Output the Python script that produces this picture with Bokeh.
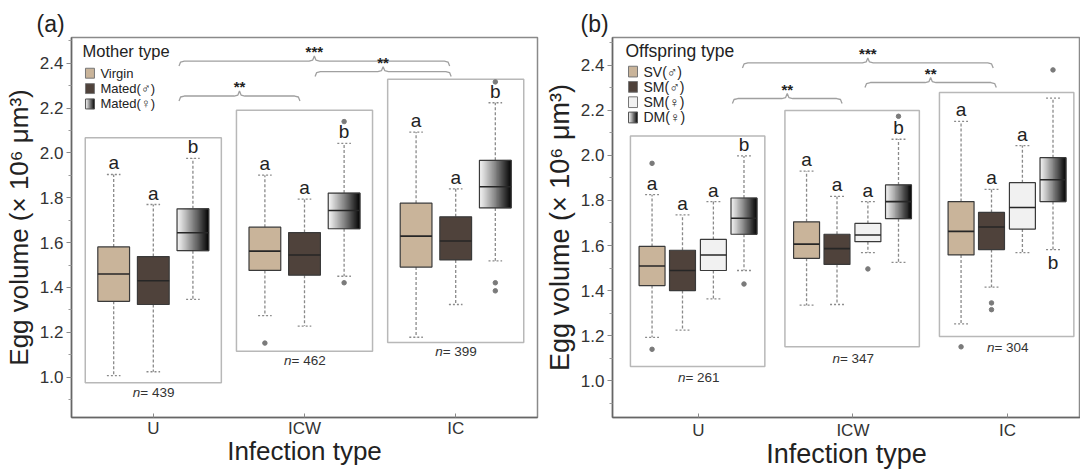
from bokeh.plotting import figure
from bokeh.layouts import row
from bokeh.models import FixedTicker, NumeralTickFormatter
from bokeh.core.properties import value
from bokeh.embed import file_html
from bokeh.resources import INLINE

FONT = "Liberation Sans"

groups = ["U", "ICW", "IC"]

# ---------------- panel (a): Mother type ----------------
a_series = ["Virgin", "Mated(♂)", "Mated(♀)"]
# each row: one series; columns: U, ICW, IC
a_lo = [[1.007, 1.274, 1.178], [1.024, 1.228, 1.324], [1.347, 1.450, 1.519]]
a_q1 = [[1.338, 1.476, 1.491], [1.324, 1.455, 1.523], [1.564, 1.662, 1.755]]
a_med = [[1.460, 1.562, 1.629], [1.430, 1.545, 1.607], [1.644, 1.743, 1.849]]
a_q3 = [[1.581, 1.669, 1.776], [1.538, 1.645, 1.715], [1.751, 1.821, 1.967]]
a_hi = [[1.904, 1.901, 2.093], [1.770, 1.794, 1.840], [1.976, 2.043, 2.224]]
a_out_group = ["ICW", "ICW", "ICW", "IC", "IC", "IC"]
a_out_series = [0, 2, 2, 2, 2, 2]
a_out_value = [1.152, 2.140, 1.421, 2.317, 1.421, 1.385]
a_letters = [["a", "a", "a"], ["a", "a", "a"], ["b", "b", "b"]]
a_letter_below = [[False] * 3, [False] * 3, [False] * 3]
a_n = ["439", "462", "399"]
a_frame_top = [2.068, 2.190, 2.329]
a_frame_bottom = [0.975, 1.116, 1.155]
a_br_x0 = [1.17, 1.17, 2.07]
a_br_x1 = [1.97, 2.96, 2.97]
a_br_y = [2.254, 2.410, 2.363]
a_br_label = ["**", "***", "**"]

# ---------------- panel (b): Offspring type ----------------
b_series = ["SV(♂)", "SM(♂)", "SM(♀)", "DM(♀)"]
b_lo = [[1.192, 1.335, 1.252], [1.224, 1.338, 1.415], [1.363, 1.568, 1.568], [1.489, 1.525, 1.582]]
b_q1 = [[1.422, 1.543, 1.558], [1.400, 1.516, 1.582], [1.489, 1.617, 1.673], [1.650, 1.719, 1.795]]
b_med = [[1.509, 1.606, 1.663], [1.489, 1.586, 1.682], [1.558, 1.647, 1.769], [1.721, 1.795, 1.892]]
b_q3 = [[1.596, 1.705, 1.795], [1.579, 1.650, 1.747], [1.627, 1.698, 1.879], [1.811, 1.869, 1.990]]
b_hi = [[1.826, 1.930, 2.151], [1.736, 1.818, 1.849], [1.795, 1.795, 2.044], [1.998, 2.072, 2.255]]
b_out_group = ["U", "U", "U", "ICW", "ICW", "IC", "IC", "IC", "IC"]
b_out_series = [0, 0, 3, 2, 3, 0, 1, 1, 3]
b_out_value = [1.965, 1.139, 1.429, 1.496, 2.174, 1.150, 1.345, 1.315, 2.380]
b_letters = [["a", "a", "a"], ["a", "a", "a"], ["a", "a", "a"], ["b", "b", "b"]]
b_letter_below = [[False] * 3, [False] * 3, [False] * 3, [False, False, True]]
b_n = ["261", "347", "304"]
b_frame_top = [2.087, 2.200, 2.280]
b_frame_bottom = [1.062, 1.150, 1.196]
b_br_x0 = [1.22, 1.285, 2.078]
b_br_x1 = [1.93, 2.908, 2.928]
b_br_y = [2.253, 2.411, 2.324]
b_br_label = ["**", "***", "**"]

TAN = "#c9b49a"
BROWN = "#4f423b"
LIGHT = "#f1f1f1"


def grad_color(t):
    v = int(round(242 - 232 * t ** 1.1))
    return "#%02x%02x%02x" % (v, v, v)


def make_panel(cfg):
    P = cfg["geom"]
    p = figure(width=540, height=471, x_range=(P["x0"], P["x1"]), y_range=(P["y0"], P["y1"]),
               output_backend="svg", toolbar_location=None, title=cfg["tag"],
               min_border_left=P["bl"], min_border_right=P["br"],
               min_border_top=P["bt"], min_border_bottom=P["bb"])
    p.title.text_font = FONT
    p.title.text_font_size = "23px"
    p.title.text_font_style = "normal"
    p.title.text_color = "#222222"
    p.title.align = "left"
    p.title.offset = cfg["tag_offset"]
    p.title.standoff = 1
    p.xgrid.visible = False
    p.ygrid.visible = False
    p.outline_line_color = "#8a8a8a"
    p.outline_line_width = 1.5
    p.background_fill_color = "white"
    p.border_fill_color = "white"

    # axes
    p.yaxis.ticker = FixedTicker(ticks=[1.0, 1.2, 1.4, 1.6, 1.8, 2.0, 2.2, 2.4],
                                 minor_ticks=[0.9, 1.1, 1.3, 1.5, 1.7, 1.9, 2.1, 2.3, 2.5])
    p.yaxis.formatter = NumeralTickFormatter(format="0.0")
    p.xaxis.ticker = FixedTicker(ticks=[1, 2, 3], minor_ticks=[])
    p.xaxis.major_label_overrides = {1: groups[0], 2: groups[1], 3: groups[2]}
    p.xaxis.axis_label = "Infection type"
    p.yaxis.axis_label = "Egg volume (× 10⁶ μm³)"
    for ax in (p.xaxis[0], p.yaxis[0]):
        ax.axis_line_color = "#666666"
        ax.axis_line_width = 1.5
        ax.major_tick_line_color = "#8a8a8a"
        ax.minor_tick_line_color = "#9a9a9a"
        ax.major_label_text_font = FONT
        ax.major_label_text_font_size = "17px"
        ax.major_label_text_color = "#333333"
        ax.axis_label_text_font = FONT
        ax.axis_label_text_font_size = cfg["title_size"]
        ax.axis_label_text_font_style = "normal"
        ax.axis_label_text_color = "#222222"
    p.yaxis.major_tick_out = 5
    p.yaxis.major_tick_in = 0
    p.yaxis.minor_tick_out = 3
    p.yaxis.minor_tick_in = 0
    p.yaxis.major_label_standoff = 3
    p.yaxis.axis_label_standoff = 3
    p.xaxis.major_tick_out = 0
    p.xaxis.major_tick_in = 4
    p.xaxis.major_label_standoff = cfg["xtick_standoff"]
    p.xaxis.axis_label_standoff = cfg["xlabel_standoff"]

    def px2x(px):
        return P["x0"] + (px - P["L"]) / P["W"] * (P["x1"] - P["x0"])

    def px2y(py):
        return P["y1"] - (py - P["T"]) / P["H"] * (P["y1"] - P["y0"])

    offs = cfg["offsets"]
    bw = cfg["box_w"]
    cap = 0.045
    ns = len(cfg["series"])

    # group frames
    gx = [i + 1 for i in range(len(groups))]
    p.quad(left=[g + cfg["frame_l"] for g in gx], right=[g + cfg["frame_r"] for g in gx],
           top=cfg["frame_top"], bottom=cfg["frame_bottom"],
           fill_color=None, line_color="#b8b8b8", line_width=1.5)

    for s in range(ns):
        xs = [g + offs[s] for g in gx]
        lo, q1, med, q3, hi = cfg["lo"][s], cfg["q1"][s], cfg["med"][s], cfg["q3"][s], cfg["hi"][s]
        # whiskers
        p.segment(x0=xs, y0=q3, x1=xs, y1=hi, line_color="#8a8a8a", line_width=1.3, line_dash="3 2")
        p.segment(x0=xs, y0=q1, x1=xs, y1=lo, line_color="#8a8a8a", line_width=1.3, line_dash="3 2")
        p.segment(x0=[x - cap for x in xs], y0=hi, x1=[x + cap for x in xs], y1=hi,
                  line_color="#8a8a8a", line_width=1.3, line_dash="2 2")
        p.segment(x0=[x - cap for x in xs], y0=lo, x1=[x + cap for x in xs], y1=lo,
                  line_color="#8a8a8a", line_width=1.3, line_dash="2 2")
        style = cfg["styles"][s]
        if style == "grad":
            nsl = 30
            L_, R_, T_, B_, C_ = [], [], [], [], []
            for k in range(len(xs)):
                left = xs[k] - bw / 2
                for j in range(nsl):
                    L_.append(left + bw * j / nsl)
                    R_.append(min(left + bw * (j + 1) / nsl + 0.004, left + bw))
                    T_.append(q3[k])
                    B_.append(q1[k])
                    C_.append(grad_color(j / (nsl - 1)))
            p.quad(left=L_, right=R_, top=T_, bottom=B_, fill_color=C_, line_color=C_, line_width=0.5)
            p.quad(left=[x - bw / 2 for x in xs], right=[x + bw / 2 for x in xs], top=q3, bottom=q1,
                   fill_color=None, line_color="#3a3a3a", line_width=1.2)
        else:
            p.quad(left=[x - bw / 2 for x in xs], right=[x + bw / 2 for x in xs], top=q3, bottom=q1,
                   fill_color=style, line_color="#3a3a3a", line_width=1.2)
        p.segment(x0=[x - bw / 2 for x in xs], y0=med, x1=[x + bw / 2 for x in xs], y1=med,
                  line_color="#262626", line_width=1.6)
        # letters
        for k in range(len(xs)):
            below = cfg["letter_below"][s][k]
            p.text(x=[xs[k]], y=[lo[k] if below else hi[k]], text=[cfg["letters"][s][k]],
                   text_font=value(FONT), text_font_size="19px", text_color="#222222",
                   text_align="center", text_baseline="top" if below else "bottom",
                   y_offset=2 if below else -1)

    # outliers
    ox = [groups.index(g) + 1 + offs[s] for g, s in zip(cfg["out_group"], cfg["out_series"])]
    p.scatter(x=ox, y=cfg["out_value"], size=4.5, fill_color="#7a7a7a", line_color="#7a7a7a")

    # n labels
    ny = [b - cfg["n_gap"] for b in cfg["frame_bottom"]]
    p.text(x=gx, y=ny, text=["n"] * 3, text_font=value(FONT), text_font_style="italic",
           text_font_size="13.5px", text_color="#333333", text_align="right",
           text_baseline="middle", x_offset=-13)
    p.text(x=gx, y=ny, text=["= " + n for n in cfg["n"]], text_font=value(FONT),
           text_font_size="13.5px", text_color="#333333", text_align="left",
           text_baseline="middle", x_offset=-13)

    # brackets (curly-brace style)
    h = 0.022
    d = 0.035
    xs_l, ys_l = [], []
    for x0, x1, y in zip(cfg["br_x0"], cfg["br_x1"], cfg["br_y"]):
        xm = (x0 + x1) / 2
        xs_l.append([x0, x0 + d * 0.3, x0 + d, xm - d, xm - d * 0.3, xm, xm + d * 0.3, xm + d, x1 - d, x1 - d * 0.3, x1])
        ys_l.append([y - h, y - h * 0.2, y, y, y + h * 0.2, y + h, y + h * 0.2, y, y, y - h * 0.2, y - h])
    p.multi_line(xs=xs_l, ys=ys_l, line_color="#a0a0a0", line_width=1.3)
    p.text(x=[(a + b) / 2 for a, b in zip(cfg["br_x0"], cfg["br_x1"])],
           y=[y + h for y in cfg["br_y"]], text=cfg["br_label"], text_font=value(FONT),
           text_font_style="bold", text_font_size="15px", text_color="#222222",
           text_align="center", text_baseline="bottom", y_offset=4)

    # legend (drawn manually)
    LG = cfg["legend"]
    p.text(x=[px2x(LG["title_x"])], y=[px2y(LG["title_y"])], text=[cfg["legend_title"]],
           text_font=value(FONT), text_font_size=LG["title_size"], text_color="#222222",
           text_align="left", text_baseline="middle")
    sw_l, sw_r = px2x(LG["sw_x"]), px2x(LG["sw_x"] + LG["sw_w"])
    for s in range(ns):
        cy = LG["y0"] + s * LG["dy"]
        top, bot = px2y(cy - LG["sw_h"] / 2), px2y(cy + LG["sw_h"] / 2)
        style = cfg["styles"][s]
        if style == "grad":
            nsl = 10
            cols = [grad_color(j / (nsl - 1)) for j in range(nsl)]
            p.quad(left=[sw_l + (sw_r - sw_l) * j / nsl for j in range(nsl)],
                   right=[sw_l + (sw_r - sw_l) * (j + 1) / nsl for j in range(nsl)],
                   top=[top] * nsl, bottom=[bot] * nsl,
                   fill_color=cols, line_color=cols, line_width=0.5)
            p.quad(left=[sw_l], right=[sw_r], top=[top], bottom=[bot], fill_color=None,
                   line_color="#555555", line_width=1)
        else:
            p.quad(left=[sw_l], right=[sw_r], top=[top], bottom=[bot], fill_color=style,
                   line_color="#777777", line_width=1)
        p.text(x=[px2x(LG["lab_x"])], y=[px2y(cy)], text=[cfg["series"][s]], text_font=value(FONT),
               text_font_size=LG["lab_size"], text_color="#222222", text_align="left",
               text_baseline="middle")
    return p


cfg_a = dict(
    geom=dict(x0=0.459, x1=3.541, y0=0.82, y1=2.515, L=70, T=37, W=467, H=383,
              bl=70, br=3, bt=37, bb=51),
    series=a_series, lo=a_lo, q1=a_q1, med=a_med, q3=a_q3, hi=a_hi,
    out_group=a_out_group, out_series=a_out_series, out_value=a_out_value,
    letters=a_letters, letter_below=a_letter_below, n=a_n, n_gap=0.042,
    frame_top=a_frame_top, frame_bottom=a_frame_bottom, frame_l=-0.45, frame_r=0.45,
    br_x0=a_br_x0, br_x1=a_br_x1, br_y=a_br_y, br_label=a_br_label,
    offsets=[-0.262, 0.0, 0.262], box_w=0.21, styles=[TAN, BROWN, "grad"],
    legend_title="Mother type",
    legend=dict(title_x=81, title_y=51, title_size="16.5px", sw_x=84, sw_w=9, sw_h=10,
                y0=73, dy=15.5, lab_x=99, lab_size="13px"),
    title_size="26px", tag="(a)", tag_offset=-35, xtick_standoff=1, xlabel_standoff=-5,
)

cfg_b = dict(
    geom=dict(x0=0.444, x1=3.473, y0=0.836, y1=2.524, L=72, T=36, W=468, H=390,
              bl=72, br=0, bt=36, bb=45),
    series=b_series, lo=b_lo, q1=b_q1, med=b_med, q3=b_q3, hi=b_hi,
    out_group=b_out_group, out_series=b_out_series, out_value=b_out_value,
    letters=b_letters, letter_below=b_letter_below, n=b_n, n_gap=0.05,
    frame_top=b_frame_top, frame_bottom=b_frame_bottom, frame_l=-0.44, frame_r=0.43,
    br_x0=b_br_x0, br_x1=b_br_x1, br_y=b_br_y, br_label=b_br_label,
    offsets=[-0.30, -0.103, 0.097, 0.295], box_w=0.168, styles=[TAN, BROWN, LIGHT, "grad"],
    legend_title="Offspring type",
    legend=dict(title_x=85, title_y=50, title_size="17.5px", sw_x=88, sw_w=9, sw_h=11,
                y0=71, dy=15.7, lab_x=103, lab_size="14px"),
    title_size="27px", tag="(b)", tag_offset=-32, xtick_standoff=3, xlabel_standoff=-4,
)

p1 = make_panel(cfg_a)
p2 = make_panel(cfg_b)
layout = row(p1, p2)
open("out.html", "w").write(file_html(layout, INLINE))
